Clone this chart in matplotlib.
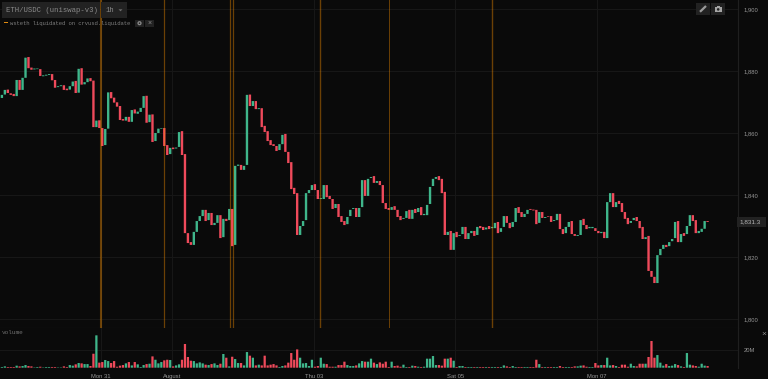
import matplotlib
matplotlib.use("Agg")
import matplotlib.pyplot as plt
from matplotlib.patches import Rectangle, Circle, Polygon
from matplotlib.ticker import FuncFormatter

opens = [
1871.3,1872.4,1874.0,1872.8,1872.6,1871.9,1877.1,1873.9,1877.8,1884.5,
1881.1,1880.5,1880.6,1880.6,1878.3,1878.5,1878.7,1879.0,1877.1,1874.8,
1875.1,1875.4,1874.3,1874.0,1875.1,1876.8,1873.0,1880.9,1875.7,1876.4,
1877.7,1876.9,1861.9,1864.1,1861.6,1856.1,1861.4,1873.2,1871.4,1869.9,
1868.7,1864.5,1864.0,1865.2,1863.6,1867.6,1866.2,1866.8,1868.1,1872.0,
1863.5,1866.0,1857.4,1860.0,1861.4,1861.6,1856.1,1853.2,1855.3,1855.0,
1855.5,1860.6,1853.2,1827.7,1824.8,1823.9,1828.1,1831.6,1833.2,1835.2,
1831.9,1834.2,1830.3,1831.0,1833.5,1826.4,1832.3,1831.9,1835.5,1823.9,
1849.4,1849.7,1848.1,1849.7,1872.4,1868.7,1870.3,1867.7,1868.0,1862.3,
1860.6,1857.7,1856.4,1855.8,1854.5,1856.4,1859.7,1853.9,1850.6,1842.3,
1840.6,1827.1,1830.0,1831.9,1840.6,1841.6,1843.5,1841.6,1838.7,1838.7,
1843.2,1839.7,1838.7,1835.8,1837.1,1833.2,1831.6,1830.6,1833.2,1835.5,
1835.8,1832.9,1836.1,1844.8,1839.7,1845.5,1846.1,1843.9,1844.5,1843.2,
1837.4,1835.8,1835.2,1836.4,1835.2,1833.2,1832.3,1832.6,1835.2,1832.3,
1835.5,1834.5,1836.1,1833.5,1833.5,1837.1,1842.9,1845.2,1846.1,1845.2,
1841.0,1827.1,1828.4,1822.3,1828.1,1826.8,1827.4,1829.7,1825.8,1827.7,
1828.4,1827.1,1830.0,1829.7,1828.9,1830.0,1829.3,1829.3,1831.3,1828.1,
1829.7,1833.2,1831.0,1829.7,1831.3,1836.1,1834.5,1832.9,1833.9,1835.5,
1835.3,1835.2,1831.0,1834.5,1832.6,1833.1,1833.2,1831.6,1831.9,1833.9,
1829.0,1827.7,1829.7,1831.6,1827.4,1826.8,1827.1,1832.3,1830.3,1829.3,
1829.3,1829.3,1828.4,1827.7,1828.1,1826.1,1837.7,1840.6,1836.1,1838.1,
1837.4,1834.5,1832.6,1831.0,1831.9,1832.9,1831.6,1829.7,1825.8,1826.8,
1815.5,1813.6,1811.6,1820.6,1822.6,1823.9,1823.5,1825.1,1826.1,1831.6,
1824.8,1827.7,1827.4,1830.0,1833.5,1831.9,1827.7,1828.1,1829.1,1831.6]

closes = [
1872.3,1873.9,1872.9,1872.3,1871.9,1877.1,1873.9,1877.8,1884.3,1880.9,
1880.4,1880.8,1880.8,1878.4,1878.6,1878.8,1879.0,1877.0,1874.6,1875.1,
1875.4,1873.9,1873.8,1875.1,1876.6,1872.9,1880.7,1875.6,1876.4,1877.6,
1876.7,1861.9,1864.0,1861.6,1855.8,1861.3,1873.1,1871.2,1869.8,1868.5,
1864.2,1864.0,1865.2,1863.6,1867.4,1866.3,1866.9,1868.1,1871.9,1863.3,
1865.9,1857.1,1860.0,1861.4,1861.6,1855.8,1852.9,1855.2,1854.8,1855.3,
1860.3,1852.9,1827.7,1824.5,1823.9,1828.1,1831.6,1833.2,1835.2,1831.6,
1834.2,1830.3,1831.0,1833.5,1826.1,1832.3,1831.6,1835.5,1823.5,1849.4,
1849.8,1848.1,1849.4,1872.3,1868.7,1870.3,1867.7,1868.0,1861.9,1860.3,
1857.4,1856.1,1855.8,1854.2,1856.4,1859.4,1853.9,1850.3,1841.9,1840.3,
1827.1,1830.0,1831.6,1840.6,1841.6,1843.2,1841.6,1838.7,1839.0,1843.2,
1839.3,1838.7,1835.5,1837.1,1832.9,1831.3,1830.3,1832.9,1835.2,1835.8,
1832.9,1835.8,1844.8,1839.7,1845.2,1845.8,1843.9,1844.5,1843.2,1837.4,
1835.5,1835.2,1836.1,1835.2,1832.9,1831.9,1832.6,1834.8,1832.3,1835.2,
1834.2,1835.8,1833.5,1833.9,1836.8,1842.6,1845.2,1845.8,1844.8,1840.6,
1827.1,1828.1,1822.3,1827.7,1826.4,1827.1,1829.7,1825.8,1827.7,1828.4,
1826.8,1829.7,1829.3,1828.7,1829.5,1829.0,1829.7,1831.0,1827.7,1829.3,
1833.2,1831.0,1829.3,1831.3,1835.8,1834.2,1832.9,1833.9,1835.2,1835.2,
1835.0,1830.6,1834.5,1832.6,1832.9,1832.9,1831.3,1831.9,1833.9,1829.0,
1827.4,1829.7,1831.3,1827.4,1826.8,1827.1,1831.9,1830.3,1829.0,1829.7,
1829.7,1828.4,1827.7,1828.1,1826.1,1837.7,1840.6,1836.1,1837.7,1837.1,
1834.5,1832.3,1830.6,1831.6,1832.6,1831.6,1829.3,1825.8,1826.4,1815.5,
1813.6,1811.6,1820.6,1822.6,1823.9,1823.2,1824.8,1825.8,1831.3,1824.8,
1827.4,1826.8,1830.0,1833.5,1831.6,1827.7,1828.4,1829.1,1831.6,1831.3]

volumes_m = [
0.8,1.5,0.8,0.8,0.8,2.3,1.5,1.9,3.0,1.9,
1.5,0.4,0.8,1.1,0.4,0.8,0.8,0.8,0.8,0.4,
0.4,1.5,0.8,3.0,2.3,3.8,5.3,4.9,4.1,4.1,
1.9,15.8,36.6,5.7,6.4,8.7,7.5,5.3,7.5,1.1,
2.3,3.0,4.9,6.4,2.6,6.4,3.8,0.8,3.0,4.1,
4.5,12.8,9.0,4.9,6.4,8.3,9.0,8.7,1.5,2.6,
3.8,9.0,26.8,12.1,7.9,7.5,4.9,6.0,4.9,3.4,
3.0,4.1,4.9,3.0,4.5,15.5,11.3,1.5,12.4,9.8,
5.3,5.3,2.6,17.7,13.6,11.3,2.6,3.4,2.6,13.6,
2.6,3.4,4.1,2.6,0.8,1.9,2.6,5.7,16.6,9.0,
20.7,11.3,4.9,5.3,1.9,9.0,1.1,1.9,11.3,4.5,
4.1,1.1,1.1,1.1,3.0,3.0,6.8,3.0,1.9,1.9,
2.6,4.9,7.5,6.8,6.8,10.2,5.7,4.1,6.0,4.5,
6.8,0.8,6.8,1.9,2.3,1.1,3.4,0.8,0.8,2.3,
1.9,1.1,0.8,1.1,10.2,10.2,13.2,3.0,3.0,2.3,
10.2,10.2,11.3,7.9,0.8,1.9,1.9,0.8,0.8,0.8,
0.8,0.8,0.8,0.8,0.8,0.8,0.8,0.8,0.8,0.8,
2.6,1.5,0.8,1.9,0.8,0.8,0.8,0.8,0.8,0.8,
0.8,9.0,4.1,0.8,0.8,0.8,0.8,0.8,0.8,1.9,
0.8,0.8,0.8,0.8,1.5,1.5,2.3,2.6,1.1,0.8,
0.8,5.3,2.6,3.0,3.0,11.3,2.6,3.0,1.9,0.8,
3.4,3.4,1.1,4.5,1.9,1.5,4.5,4.5,4.5,12.1,
30.2,11.3,14.3,5.7,2.3,4.1,1.9,2.3,4.1,3.0,
1.5,0.8,16.6,3.4,2.6,1.9,1.1,4.5,2.3,1.9]

date_ticks = [33.6, 57.6, 105.6, 153.6, 201.6]
date_labels = ["Mon 31", "August", "Thu 03", "Sat 05", "Mon 07"]
price_ticks = [1800, 1820, 1840, 1860, 1880, 1900]
volume_ticks = [20]
event_hours = [33.6, 54.9, 77.3, 78.1, 107.9, 131.2, 166.0]
event_widths = [1.5, 0.9, 0.9, 0.9, 1.0, 0.7, 1.0]
last_price = 1831.3
pair_label = "ETH/USDC (uniswap-v3)"
interval_label = "1h"
study_label = "wsteth liquidated on crvusd.liquidate"
volume_label = "volume"

BG = "#0a0a0a"
GRID = "#181818"
GREEN = "#3fb68b"
RED = "#ef4a5b"
ORANGE = "#f28c00"
TICK = "#969696"
MONO = "Liberation Mono"
SANS = "Liberation Sans"
W, H = 768, 379

fig = plt.figure(figsize=(W / 100, H / 100), dpi=100, facecolor=BG)


def pane(top, bottom):
    return fig.add_axes([0, 1 - bottom / H, 738 / W, (bottom - top) / H], facecolor=BG)


ax = pane(0, 327.5)
vol = pane(328, 368)
idx = list(range(len(opens)))
colors = [GREEN if c >= o else RED for o, c in zip(opens, closes)]
bottoms = [min(o, c) for o, c in zip(opens, closes)]
heights = [abs(c - o) for o, c in zip(opens, closes)]

ax.bar(idx, heights, bottom=bottoms, width=0.8, color=colors, linewidth=0, zorder=3, snap=False)
for h, w in zip(event_hours, event_widths):
    ax.axvline(h, color=ORANGE, alpha=0.42, lw=w, zorder=4)
vol.bar(idx, volumes_m, width=0.76, color=colors, linewidth=0, zorder=3, snap=False)

for a in (ax, vol):
    a.set_xlim(-0.643, 249.3)
    a.set_xticks(date_ticks)
    a.grid(True, color=GRID, lw=0.7, zorder=0)
    a.set_axisbelow(True)
    a.yaxis.tick_right()
    a.tick_params(length=0, labelsize=4.2, labelcolor=TICK, pad=4)
    for s in a.spines.values():
        s.set_visible(False)
    a.spines["right"].set_visible(True)
    a.spines["right"].set_color("#1f1f1f")
    a.spines["right"].set_linewidth(0.8)

ax.set_ylim(1902.9 - 327.5 * 0.32258, 1902.9)
ax.set_yticks(price_ticks)
ax.yaxis.set_major_formatter(FuncFormatter(lambda v, _: f"{v:,.0f}"))
ax.tick_params(axis="x", labelbottom=False)
for t in ax.get_yticklabels():
    t.set_family(SANS)
ax.spines["bottom"].set_visible(True)
ax.spines["bottom"].set_color("#1f1f1f")
ax.spines["bottom"].set_linewidth(0.8)

vol.set_ylim(-0.34, 44.9)
vol.set_yticks(volume_ticks)
vol.yaxis.set_major_formatter(FuncFormatter(lambda v, _: f"{v:.0f}M"))
vol.set_xticklabels(date_labels)
for t in vol.get_xticklabels() + vol.get_yticklabels():
    t.set_family(SANS)

# interface overlay, laid out in pixels
ui = fig.add_axes([0, 0, 1, 1], facecolor="none", zorder=10)
ui.set_xlim(0, W)
ui.set_ylim(H, 0)
ui.axis("off")


def box(x0, y0, x1, y1, color="#222222"):
    ui.add_patch(Rectangle((x0, y0), x1 - x0, y1 - y0, fc=color, ec="none"))


box(2, 2, 99.5, 18)
box(101, 2, 126.5, 18)
ui.text(6, 10, pair_label, family=MONO, fontsize=5.2, color="#8a8a8a", va="center", ha="left")
ui.text(105.5, 10, interval_label, family=MONO, fontsize=5.2, color="#8a8a8a", va="center", ha="left")
ui.add_patch(Polygon([(118.5, 9.3), (122.5, 9.3), (120.5, 11.3)], fc="#6f6f6f", ec="none"))

ui.add_patch(Rectangle((4, 22), 3.5, 1.2, fc="#e08a10", ec="none"))
ui.text(10, 23.5, study_label, family=MONO, fontsize=4.0, color="#7d7d7d", va="center", ha="left")
box(135, 19.5, 144, 27)
box(145, 19.5, 153.5, 27)
ui.add_patch(Circle((139.5, 23.2), 2.1, fc="#8a8a8a", ec="none"))
ui.add_patch(Circle((139.5, 23.2), 0.8, fc="#222222", ec="none"))
ui.text(149.3, 23.2, "×", family=SANS, fontsize=5, color="#8f8f8f", va="center", ha="center")

ui.text(2, 333, volume_label, family=MONO, fontsize=4.4, color="#6e6e6e", va="center", ha="left")
ui.text(764, 334, "×", family=SANS, fontsize=6, color="#8f8f8f", va="center", ha="center")

box(696, 3, 710, 15)
box(711, 3, 725, 15)
ui.plot([700, 706], [11.8, 6], color="#9a9a9a", lw=1.6, solid_capstyle="butt")
ui.add_patch(Rectangle((715, 7), 6.5, 4.8, fc="#a5a5a5", ec="none"))
ui.add_patch(Rectangle((716.8, 5.9), 2.9, 1.3, fc="#a5a5a5", ec="none"))
ui.add_patch(Circle((718.2, 9.4), 1.3, fc="#222222", ec="none"))

box(737, 217, 766, 226.5)
ui.text(739.5, 222, f"{last_price:,.1f}", family=SANS, fontsize=4.6, color="#b5b5b5", va="center", ha="left")

fig.savefig("out.png", dpi=100, facecolor=BG)
